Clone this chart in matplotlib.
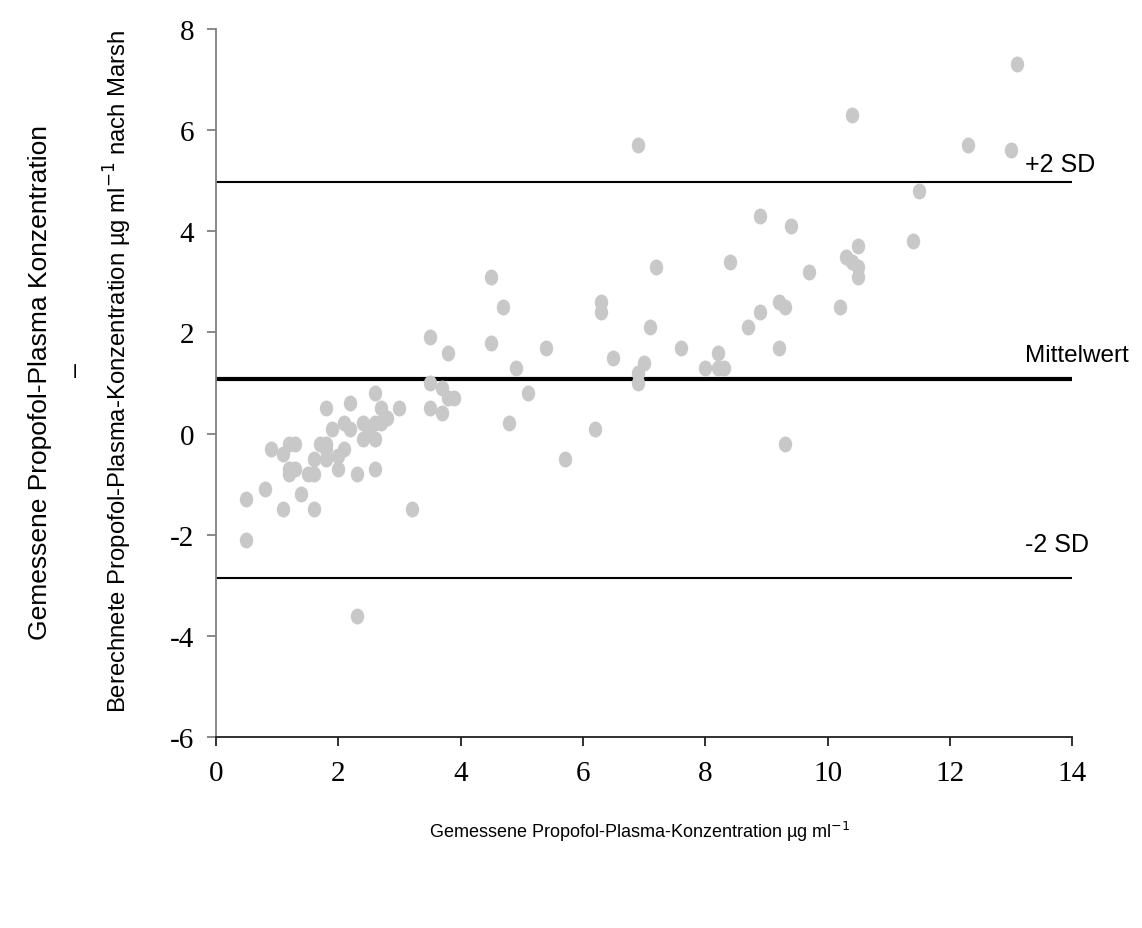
import numpy as np
import matplotlib.pyplot as plt
from matplotlib.path import Path
from matplotlib.transforms import Affine2D

# measured concentration (x) and difference measured - calculated (y)
x_vals = [0.5, 0.5, 0.8, 1.1, 1.6, 1.4, 3.2, 0.9, 1.1, 1.2, 1.3, 1.2, 1.3, 1.2,
          1.5, 1.6, 1.6, 1.7, 1.8, 1.8, 1.9, 2.0, 2.0, 1.8, 1.8, 2.1, 2.1, 2.2, 2.2,
          2.3, 2.4, 2.4, 2.5, 2.6, 2.6, 2.6, 2.6, 2.7, 2.7, 2.8, 3.0, 2.3,
          3.5, 3.5, 3.5, 3.8, 3.7, 3.8, 3.9, 3.7, 4.5, 4.7, 4.5, 5.4, 4.9, 5.1,
          4.8, 5.7, 6.2, 6.3, 6.3, 7.2, 7.1, 6.5, 7.0, 6.9, 6.9, 7.6, 6.9,
          11.5, 8.9, 9.4, 11.4, 10.5, 10.3, 10.4, 10.5, 10.5, 8.4, 9.7, 9.2, 9.3,
          10.2, 8.9, 8.7, 9.2, 8.2, 8.0, 8.2, 8.3, 9.3, 13.1, 12.3, 13.0, 10.4]
y_vals = [-2.1, -1.3, -1.1, -1.5, -1.5, -1.2, -1.5, -0.3, -0.4, -0.2, -0.2, -0.7, -0.7, -0.8,
          -0.8, -0.8, -0.5, -0.2, -0.2, 0.5, 0.1, -0.7, -0.45, -0.3, -0.5, -0.3, 0.2, 0.6, 0.1,
          -0.8, 0.2, -0.1, 0.1, 0.8, -0.1, -0.7, 0.2, 0.5, 0.2, 0.3, 0.5, -3.6,
          1.9, 1.0, 0.5, 1.6, 0.9, 0.7, 0.7, 0.4, 3.1, 2.5, 1.8, 1.7, 1.3, 0.8,
          0.2, -0.5, 0.1, 2.6, 2.4, 3.3, 2.1, 1.5, 1.4, 1.2, 1.0, 1.7, 5.7,
          4.8, 4.3, 4.1, 3.8, 3.7, 3.5, 3.4, 3.3, 3.1, 3.4, 3.2, 2.6, 2.5,
          2.5, 2.4, 2.1, 1.7, 1.6, 1.3, 1.3, 1.3, -0.2, 7.3, 5.7, 5.6, 6.3]

mean_diff = 1.07
upper_sd = 4.97
lower_sd = -2.85

plt.rcParams['font.family'] = ['Liberation Sans', 'DejaVu Sans']
plt.rcParams['axes.unicode_minus'] = False

fig = plt.figure(figsize=(11.42, 9.29), dpi=100)
ax = fig.add_axes([0.189, 0.2056, 0.750, 0.7621])

# slightly tall ellipse marker like the original
ell = Path.unit_circle().transformed(Affine2D().scale(0.84, 1.0))
ax.scatter(x_vals, y_vals, marker=ell, s=11.5 ** 2, color='#c8c8c8', linewidths=0, zorder=3)

ax.plot([0, 14], [upper_sd, upper_sd], color='black', lw=1.5, zorder=2)
ax.plot([0, 14], [mean_diff, mean_diff], color='black', lw=3, zorder=2)
ax.plot([0, 14], [lower_sd, lower_sd], color='black', lw=1.5, zorder=2)

ax.text(13.23, upper_sd + 0.23, '+2 SD', fontsize=18, va='baseline', ha='left')
ax.text(13.23, mean_diff + 0.37, 'Mittelwert', fontsize=17.5, va='baseline', ha='left')
ax.text(13.23, lower_sd + 0.52, '-2 SD', fontsize=18, va='baseline', ha='left')

ax.set_xlim(0, 14)
ax.set_ylim(-6, 8)
ax.set_xticks(np.arange(0, 15, 2))
ax.set_yticks(np.arange(-6, 9, 2))
for lab in ax.get_xticklabels() + ax.get_yticklabels():
    lab.set_family('Liberation Serif')
    lab.set_fontsize(21)

for s in ['top', 'right']:
    ax.spines[s].set_visible(False)
ax.spines['left'].set_color('#808080')
ax.spines['bottom'].set_color('#202020')
for s in ['left', 'bottom']:
    ax.spines[s].set_linewidth(1.3)
ax.tick_params(axis='x', direction='out', length=6.5, width=1.3, color='#202020', pad=10)
ax.tick_params(axis='y', direction='out', length=6.5, width=1.3, color='#808080', pad=9)

fig.text(640 / 1142, 1 - 832 / 929, 'Gemessene Propofol-Plasma-Konzentration µg ml$^{-1}$',
         ha='center', va='center', fontsize=13)
fig.text(40 / 1142, 1 - 383 / 929, 'Gemessene Propofol-Plasma Konzentration',
         ha='center', va='center', rotation=90, fontsize=19)
fig.text(76 / 1142, 1 - 370 / 929, '–', ha='center', va='center', rotation=90, fontsize=18)
fig.text(118 / 1142, 1 - 371 / 929,
         'Berechnete Propofol-Plasma-Konzentration µg ml$^{-1}$ nach Marsh',
         ha='center', va='center', rotation=90, fontsize=17.2)

fig.savefig('out.png', dpi=100)
